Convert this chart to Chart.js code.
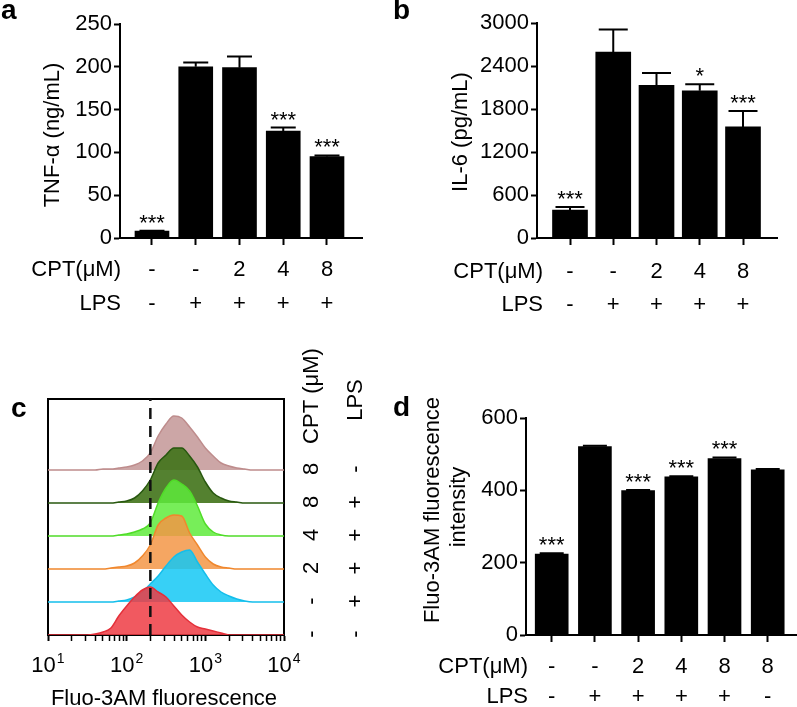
<!DOCTYPE html>
<html lang="en">
<head>
  <meta charset="utf-8">
  <title>CPT: TNF-α, IL-6 and Fluo-3AM</title>
  <script src="https://cdn.jsdelivr.net/npm/chart.js@4.4.1/dist/chart.umd.min.js"></script>
  <style>
    * { margin: 0; padding: 0; }
    body {
      position: relative;
      width: 797px;
      height: 707px;
      overflow: hidden;
      background: #fff;
      font-family: 'Liberation Sans', Arial, Helvetica, sans-serif;
    }
    .panel { position: absolute; }
    .tag {
      position: absolute;
      font: bold 28px 'Liberation Sans', Arial, Helvetica, sans-serif;
      line-height: 1;
      color: #000;
    }
  </style>
</head>
<body>

  <div class="panel" style="left:0;top:0;width:395px;height:325px"><canvas id="chartA"></canvas></div>
  <div class="panel" style="left:395px;top:0;width:402px;height:325px"><canvas id="chartB"></canvas></div>
  <div class="panel" style="left:0;top:330px;width:395px;height:377px"><canvas id="chartC"></canvas></div>
  <div class="panel" style="left:395px;top:330px;width:402px;height:377px"><canvas id="chartD"></canvas></div>

  <div class="tag" style="left:1px;top:-4px">a</div>
  <div class="tag" style="left:393px;top:-4px">b</div>
  <div class="tag" style="left:11px;top:394px">c</div>
  <div class="tag" style="left:393px;top:393px">d</div>

  <script>
    const FONT = "'Liberation Sans', Arial, Helvetica, sans-serif";
    const TXT = 22;
    Chart.defaults.font.family = FONT;
    Chart.defaults.color = '#000';

    // panel a - TNF-α
    const cptA = ['-', '-', '2', '4', '8'];
    const lpsA = ['-', '+', '+', '+', '+'];
    const tnfMean = [8, 200, 199, 125, 95];
    const tnfSem = [0.5, 5, 13, 4, 1.5];
    const tnfStars = ['***', '', '', '***', '***'];
    const tnfTicks = [0, 50, 100, 150, 200, 250];

    // panel b - IL-6
    const cptB = ['-', '-', '2', '4', '8'];
    const lpsB = ['-', '+', '+', '+', '+'];
    const il6Mean = [390, 2595, 2130, 2055, 1550];
    const il6Sem = [42, 313, 172, 90, 222];
    const il6Stars = ['***', '', '', '*', '***'];
    const il6Ticks = [0, 600, 1200, 1800, 2400, 3000];

    // panel c - flow histograms (bottom to top)
    const fluoBins = [10, 31.6, 39.8, 50.1, 63.1, 79.4, 100, 125.9, 158.5, 199.5, 251.2, 316.2,
                      398.1, 501.2, 631, 794.3, 1000, 1258.9, 1584.9, 1995.3, 2511.9, 3162.3, 3981.1, 10000];
    const histCpt = ['-', '-', '2', '4', '8', '8'];
    const histLps = ['-', '+', '+', '+', '+', '-'];
    const histOffsets = [0, 33, 66, 99, 132, 165];
    const histCtrl   = [0, 0, 1, 3, 7, 19, 29, 38, 45, 48, 43, 38, 29, 20, 13, 8, 6, 4, 2, 0, 0, 0, 0, 0];
    const histLps0   = [0, 0, 0, 0, 0, 1, 2, 5, 10, 18, 26, 36, 45, 50, 52, 40, 28, 17, 10, 6, 3, 1, 0, 0];
    const histCpt2   = [0, 0, 0, 0, 1, 2, 3, 6, 13, 24, 44, 51, 54, 53, 36, 24, 12, 5, 2, 1, 0, 0, 0, 0];
    const histCpt4   = [0, 0, 0, 0, 0, 1, 2, 4, 7, 13, 33, 48, 56, 52, 45, 30, 12, 4, 1, 0, 0, 0, 0, 0];
    const histCpt8   = [0, 0, 0, 0, 0, 1, 2, 5, 12, 23, 40, 48, 55, 55, 47, 36, 21, 10, 5, 2, 1, 0, 0, 0];
    const histCpt8NoLps = [0, 0, 0, 1, 1, 2, 3, 5, 9, 17, 34, 46, 54, 52, 43, 33, 22, 14, 7, 4, 2, 1, 0, 0];
    const gateValue = 200;
    const decadeTicks = [10, 100, 1000, 10000];
    const decadeExp = ['1', '2', '3', '4'];

    // panel d - Fluo-3AM intensity
    const cptD = ['-', '-', '2', '4', '8', '8'];
    const lpsD = ['-', '+', '+', '+', '+', '-'];
    const fluoMean = [224, 521, 399, 437, 488, 457];
    const fluoSem = [2, 2, 2, 2, 3, 2];
    const fluoStars = ['***', '', '***', '***', '***', ''];
    const fluoTicks = [0, 200, 400, 600];

    function drawText(ctx, text, x, y, opts = {}) {
      ctx.save();
      ctx.font = (opts.weight || 'normal') + ' ' + (opts.size || TXT) + 'px ' + FONT;
      ctx.fillStyle = '#000';
      ctx.textAlign = opts.align || 'center';
      ctx.textBaseline = 'alphabetic';
      ctx.translate(x, y);
      if (opts.rotate) ctx.rotate(opts.rotate);
      ctx.fillText(text, 0, 0);
      ctx.restore();
    }

    function makeBarChart(id, d) {
      const annot = {
        id: 'annot',
        afterDraw(chart) {
          const { ctx, scales: { x, y } } = chart;
          ctx.save();
          ctx.strokeStyle = '#000';
          ctx.lineWidth = 2;
          d.mean.forEach((v, i) => {
            const px = x.getPixelForValue(i);
            const top = y.getPixelForValue(v + d.sem[i]);
            ctx.beginPath();
            ctx.moveTo(px, y.getPixelForValue(v));
            ctx.lineTo(px, top);
            ctx.moveTo(px - d.cap / 2, top);
            ctx.lineTo(px + d.cap / 2, top);
            ctx.stroke();
            if (d.stars[i]) drawText(ctx, d.stars[i], px, top - 1);
          });
          d.rows.forEach(row => {
            drawText(ctx, row.name, d.headerX, row.y, { align: 'right' });
            row.values.forEach((t, i) => drawText(ctx, t, x.getPixelForValue(i), row.y));
          });
          d.titles.forEach(t => drawText(ctx, t.text, t.x, t.y, { rotate: -Math.PI / 2 }));
          ctx.restore();
        }
      };

      new Chart(document.getElementById(id), {
        type: 'bar',
        data: {
          datasets: [{
            data: d.mean.map((v, i) => ({ x: i, y: v })),
            backgroundColor: '#000',
            borderWidth: 0,
            barThickness: d.barW
          }]
        },
        options: {
          responsive: true,
          maintainAspectRatio: false,
          animation: false,
          layout: { padding: { top: d.top, right: d.right, left: 0, bottom: 0 } },
          plugins: { legend: { display: false }, tooltip: { enabled: false } },
          scales: {
            x: {
              type: 'linear', min: d.xMin, max: d.xMax, offset: false,
              afterBuildTicks: s => { s.ticks = d.mean.map((_, i) => ({ value: i })); },
              afterFit: s => { s.height = d.xAxisH; },
              ticks: { display: false },
              grid: { offset: false, drawOnChartArea: false, tickLength: 7, tickWidth: 2, tickColor: '#000' },
              border: { color: '#000', width: 2 }
            },
            y: {
              min: 0, max: d.ticks[d.ticks.length - 1],
              afterBuildTicks: s => { s.ticks = d.ticks.map(v => ({ value: v })); },
              afterFit: s => { s.width = d.yAxisW; },
              ticks: { font: { size: TXT }, color: '#000', padding: 2, callback: v => String(v) },
              grid: { drawOnChartArea: false, tickLength: 6, tickWidth: 2, tickColor: '#000' },
              border: { color: '#000', width: 2 }
            }
          }
        },
        plugins: [annot]
      });
    }

    makeBarChart('chartA', {
      mean: tnfMean, sem: tnfSem, stars: tnfStars, ticks: tnfTicks,
      top: 24, right: 33, yAxisW: 120, xAxisH: 87, xMin: -0.731, xMax: 4.8,
      barW: 34, cap: 25, headerX: 121,
      rows: [{ name: 'CPT(μM)', values: cptA, y: 276 }, { name: 'LPS', values: lpsA, y: 310 }],
      titles: [{ text: 'TNF-α (ng/mL)', x: 59, y: 135 }]
    });

    makeBarChart('chartB', {
      mean: il6Mean, sem: il6Sem, stars: il6Stars, ticks: il6Ticks,
      top: 23, right: 20, yAxisW: 142, xAxisH: 87, xMin: -0.763, xMax: 4.786,
      barW: 35, cap: 29, headerX: 148,
      rows: [{ name: 'CPT(μM)', values: cptB, y: 278 }, { name: 'LPS', values: lpsB, y: 311 }],
      titles: [{ text: 'IL-6 (pg/mL)', x: 72, y: 132 }]
    });

    makeBarChart('chartD', {
      mean: fluoMean, sem: fluoSem, stars: fluoStars, ticks: fluoTicks,
      top: 88, right: 0, yAxisW: 131, xAxisH: 72, xMin: -0.595, xMax: 5.678,
      barW: 33, cap: 24, headerX: 133,
      rows: [{ name: 'CPT(μM)', values: cptD, y: 343 }, { name: 'LPS', values: lpsD, y: 373 }],
      titles: [{ text: 'Fluo-3AM fluorescence', x: 44, y: 180 }, { text: 'intensity', x: 70, y: 177 }]
    });

    // panel c
    const histSeries = [
      { values: histCtrl, line: 'rgb(228,48,58)', fill: 'rgba(238,60,68,0.85)' },
      { values: histLps0, line: 'rgb(20,190,235)', fill: 'rgba(20,200,245,0.85)' },
      { values: histCpt2, line: 'rgb(240,135,45)', fill: 'rgba(243,150,70,0.85)' },
      { values: histCpt4, line: 'rgb(80,220,40)', fill: 'rgba(95,235,60,0.85)' },
      { values: histCpt8, line: 'rgb(40,88,15)', fill: 'rgba(65,115,25,0.9)' },
      { values: histCpt8NoLps, line: 'rgb(190,140,140)', fill: 'rgba(195,150,150,0.85)' }
    ];

    const logTicks = [];
    [10, 100, 1000].forEach(dec => { for (let k = 1; k <= 9; k++) logTicks.push(k * dec); });
    logTicks.push(10000);

    const histAnnot = {
      id: 'histAnnot',
      afterDraw(chart) {
        const { ctx, scales: { x, y } } = chart;
        decadeTicks.forEach((v, i) => {
          const px = x.getPixelForValue(v);
          ctx.save();
          ctx.font = TXT + 'px ' + FONT;
          const w1 = ctx.measureText('10').width;
          ctx.font = '14px ' + FONT;
          const w2 = ctx.measureText(decadeExp[i]).width;
          ctx.restore();
          const left = px - (w1 + w2 + 1) / 2;
          drawText(ctx, '10', left, 342, { align: 'left' });
          drawText(ctx, decadeExp[i], left + w1 + 1, 333, { align: 'left', size: 14 });
        });
        drawText(ctx, 'Fluo-3AM fluorescence', 164, 375);
        const rot = -Math.PI / 2;
        histOffsets.forEach((off, i) => {
          const py = y.getPixelForValue(off) - 1;
          drawText(ctx, histCpt[i], 318, py, { rotate: rot });
          drawText(ctx, histLps[i], 362, py, { rotate: rot });
        });
        drawText(ctx, 'CPT (μM)', 318, 66, { rotate: rot });
        drawText(ctx, 'LPS', 362, 70, { rotate: rot });
      }
    };

    new Chart(document.getElementById('chartC'), {
      type: 'line',
      data: {
        datasets: [
          {
            data: [{ x: gateValue, y: 0 }, { x: gateValue, y: 236 }],
            borderColor: '#111', borderWidth: 2.5, borderDash: [11, 7],
            pointRadius: 0, fill: false
          },
          ...histSeries.map((s, i) => ({
            data: fluoBins.map((b, k) => ({ x: b, y: histOffsets[i] + s.values[k] })),
            borderColor: s.line,
            backgroundColor: s.fill,
            borderWidth: 1.5,
            pointRadius: 0,
            cubicInterpolationMode: 'monotone',
            fill: { value: histOffsets[i] }
          }))
        ]
      },
      options: {
        responsive: true,
        maintainAspectRatio: false,
        animation: false,
        layout: { padding: { top: 69, right: 111, left: 0, bottom: 0 } },
        plugins: { legend: { display: false }, tooltip: { enabled: false } },
        scales: {
          x: {
            type: 'logarithmic', min: 10, max: 10000,
            afterBuildTicks: s => { s.ticks = logTicks.map(v => ({ value: v })); },
            afterFit: s => { s.height = 72; },
            ticks: { display: false },
            grid: {
              drawOnChartArea: false, tickLength: 6, tickColor: '#000',
              tickWidth: c => (decadeTicks.includes(c.tick && c.tick.value) ? 2 : 1.5)
            },
            border: { color: '#000', width: 2 }
          },
          y: {
            min: 0, max: 236,
            afterFit: s => { s.width = 48; },
            ticks: { display: false },
            grid: { display: false },
            border: { color: '#000', width: 2 }
          },
          x2: {
            type: 'linear', position: 'top', min: 0, max: 1,
            afterFit: s => { s.height = 0; },
            ticks: { display: false },
            grid: { display: false },
            border: { color: '#000', width: 2 }
          },
          y2: {
            type: 'linear', position: 'right', min: 0, max: 1,
            afterFit: s => { s.width = 0; },
            ticks: { display: false },
            grid: { display: false },
            border: { color: '#000', width: 2 }
          }
        }
      },
      plugins: [histAnnot]
    });
  </script>
</body>
</html>
